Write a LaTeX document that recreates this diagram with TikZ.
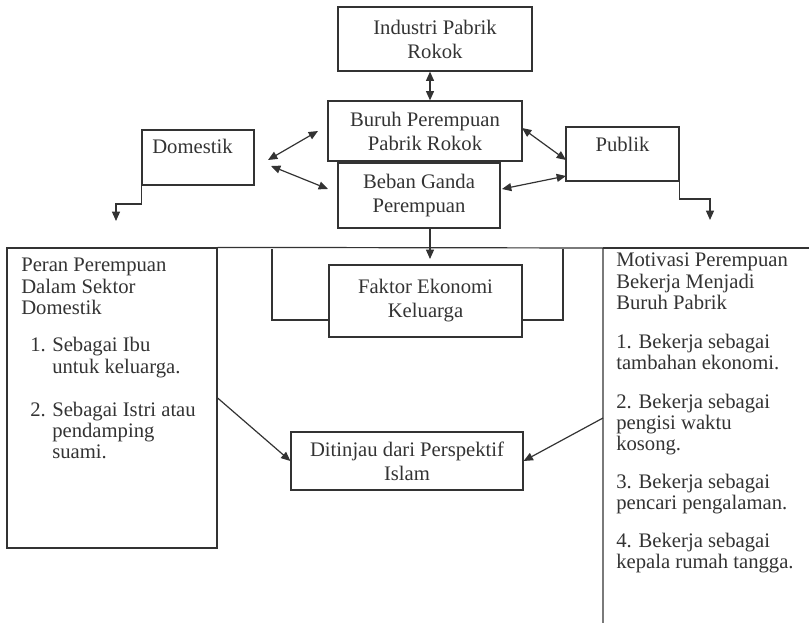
\documentclass[tikz,border=0pt]{standalone}
\usepackage{fontspec}
\setmainfont{Liberation Serif}
\usetikzlibrary{arrows.meta,calc}
\definecolor{ink}{HTML}{333333}
\begin{document}
\begin{tikzpicture}[x=0.75pt,y=-0.75pt,
  every node/.style={font=\fontsize{15.5}{18}\selectfont, text=ink},
  box/.style={draw=ink, line width=0.9pt, inner sep=0pt, align=center},
  ln/.style={draw=ink, line width=0.9pt},
  tip/.style={-{Triangle[length=7pt,width=6pt]}},
  dtip/.style={{Triangle[length=7pt,width=6pt]}-{Triangle[length=7pt,width=6pt]}},
  lt/.style={anchor=base west, inner sep=0pt},
  ct/.style={anchor=base, inner sep=0pt},
]
\useasboundingbox (0,0) rectangle (809,623);

% boxes
\node[box, minimum width=145.5pt, minimum height=48pt] (ind) at (435,39) {Industri Pabrik\\Rokok};
\node[box, minimum width=145.5pt, minimum height=45pt] (bur) at (425,131) {Buruh Perempuan\\Pabrik Rokok};
\node[box, minimum width=121.5pt, minimum height=48.75pt] (beb) at (419,195.5) {Beban Ganda\\Perempuan};
\node[box, minimum width=84pt, minimum height=41.25pt] (dom) at (198,157.5) {};
\node[ct] (domt) at (192.5,154) {Domestik};
\node[box, minimum width=84.75pt, minimum height=40.5pt] (pub) at (622.5,154) {};
\node[ct] (pubt) at (622.5,152) {Publik};
\node[box, minimum width=144.75pt, minimum height=54pt] (fak) at (425.5,301) {Faktor Ekonomi\\Keluarga};
\node[box, minimum width=174pt, minimum height=43.5pt] (dit) at (407,461) {Ditinjau dari Perspektif\\Islam};
\node[box, minimum width=157.5pt, minimum height=225pt] (lbox) at (112,398) {};

% coordinates
\coordinate (ax) at (430,0);
\coordinate (fk) at (430,259);
\coordinate (d1) at (268,160);
\coordinate (b1) at (318,131);
\coordinate (d2) at (271,166);
\coordinate (b2) at (328,189);
\coordinate (p1) at (522,128);
\coordinate (q1) at (566,160);
\coordinate (p2) at (502,189);
\coordinate (q2) at (566,176);
\coordinate (dk) at (116,204);
\coordinate (de) at (116,221);
\coordinate (pk) at (710,199);
\coordinate (pe) at (710,220);
\coordinate (rbTL) at (603,248);
\coordinate (rbTR) at (809,248);
\coordinate (rbBL) at (603,623);
\coordinate (rm) at (603,418);
\coordinate (k1) at (272,249);
\coordinate (k2) at (272,320);
\coordinate (k3) at (563,249);
\coordinate (k4) at (563,320);

% connectors
\draw[ln,dtip] (ind.south -| ax) -- (bur.north -| ax);
\draw[ln,tip] (beb.south -| ax) -- (fk);
\draw[ln,dtip] (d1) -- (b1);
\draw[ln,dtip] (d2) -- (b2);
\draw[ln,dtip] (p1) -- (q1);
\draw[ln,dtip] (p2) -- (q2);
\draw[ln,tip] (dom.south west) |- (dk) -- (de);
\draw[ln,tip] (pub.south east) |- (pk) -- (pe);
\draw[ln] (lbox.north east) -- (rbTL) -- (rbBL);
\draw[ln] (rbTL) -- (rbTR);
\draw[ln] (k1) -- (k2) -- (fak.west |- k2);
\draw[ln] (k3) -- (k4) -- (fak.east |- k4);
\draw[ln,tip] (lbox.east) -- (dit.west);
\draw[ln,tip] (rm) -- (dit.east);

% left text
\node[lt] (l1) at (21,272) {Peran Perempuan};
\node[lt] (l2) at (21,293) {Dalam Sektor};
\node[lt] (l3) at (21,314) {Domestik};
\node[lt] (l4) at (30,351) {1.};
\node[lt] (l5) at (52,351) {Sebagai Ibu};
\node[lt] (l6) at (52,373) {untuk keluarga.};
\node[lt] (l7) at (30,416) {2.};
\node[lt] (l8) at (52,416) {Sebagai Istri atau};
\node[lt] (l9) at (52,437) {pendamping};
\node[lt] (l10) at (52,458) {suami.};

% right text
\node[lt] (r1) at (616,267) {Motivasi Perempuan};
\node[lt] (r2) at (616,288) {Bekerja Menjadi};
\node[lt] (r3) at (616,310) {Buruh Pabrik};
\node[lt] (r4) at (616,348) {1. Bekerja sebagai};
\node[lt] (r5) at (616,369) {tambahan ekonomi.};
\node[lt] (r6) at (616,408) {2. Bekerja sebagai};
\node[lt] (r7) at (616,429) {pengisi waktu};
\node[lt] (r8) at (616,450) {kosong.};
\node[lt] (r9) at (616,488) {3. Bekerja sebagai};
\node[lt] (r10) at (616,509) {pencari pengalaman.};
\node[lt] (r11) at (616,547) {4. Bekerja sebagai};
\node[lt] (r12) at (616,568) {kepala rumah tangga.};
\end{tikzpicture}
\end{document}
